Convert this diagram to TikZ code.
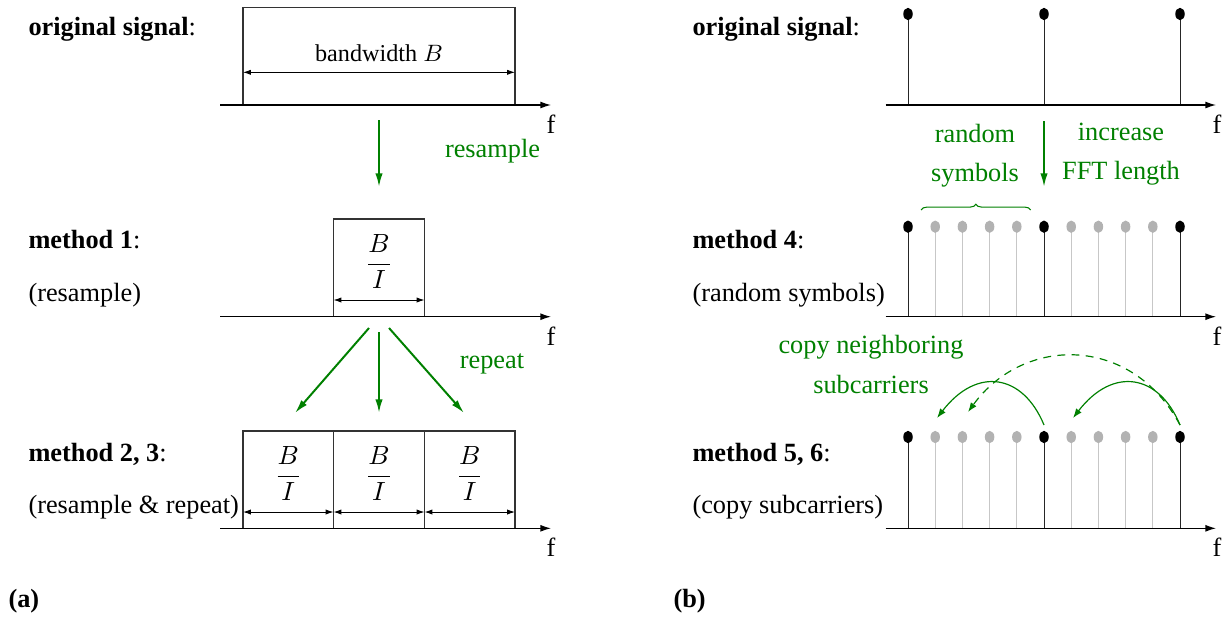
\documentclass[tikz,border=0pt]{standalone}
\usepackage{fontspec}
\setmainfont{Liberation Serif}
\usetikzlibrary{arrows.meta,decorations.pathreplacing,shapes.geometric}
\definecolor{sigGreen}{rgb}{0,0.5,0}
\definecolor{stemGray}{gray}{0.78}
\definecolor{dotGray}{gray}{0.70}

\begin{document}
\begin{tikzpicture}[x=0.38pt,y=-0.38pt,
  axis/.style={line width=0.45pt,-{Latex[length=4pt,width=2.6pt]}},
  band/.style={line width=0.4pt,draw=black!80},
  dim/.style={line width=0.35pt,{Latex[length=3pt,width=2pt]}-{Latex[length=3pt,width=2pt]}},
  flow/.style={sigGreen,line width=0.75pt,-{Latex[length=5.2pt,width=2.8pt]}},
  copyarc/.style={sigGreen,line width=0.45pt,-{Latex[length=3.6pt,width=2.6pt]}},
  lbl/.style={anchor=base west,inner sep=0pt},
  gtxt/.style={text=sigGreen,anchor=base,inner sep=0pt},
  ftxt/.style={anchor=base,inner sep=0pt},
  dot/.style={ellipse,inner sep=0pt,minimum width=3.6pt,minimum height=4.7pt,fill=black},
  gdot/.style={dot,fill=dotGray},
  stemline/.style={line width=0.35pt,draw=black!85},
  gstemline/.style={line width=0.4pt,draw=stemGray}]
\useasboundingbox (0,0) rectangle (1228,617);

% ---------- (a) bandwidth view ----------
% row labels
\node[lbl] (la0) at (28,35) {\textbf{original signal}:};
\node[lbl] (la1) at (28,248) {\textbf{method 1}:};
\node[lbl] (la1s) at (28,301) {(resample)};
\node[lbl] (la2) at (28,461) {\textbf{method 2, 3}:};
\node[lbl] (la2s) at (28,513) {(resample \& repeat)};
\node[lbl] (pa) at (8,607) {\textbf{(a)}};

% original band
\draw[band] (243,105) rectangle (515,7.5);
\coordinate (bwL) at (243,72.3);
\coordinate (bwR) at (515,72.3);
\draw[dim] (bwL) -- (bwR);
\node[ftxt] (bw) at (379,61) {\fontsize{9.2}{11}\selectfont$\mathrm{bandwidth}\ B$};
\coordinate (ax0s) at (220,105);
\coordinate (ax0e) at (551,105);
\draw[axis] (ax0s) -- (ax0e);
\node[ftxt] (fa0) at (551,133) {f};

% resample step
\coordinate (rs0) at (379,120);
\coordinate (rs1) at (379,187);
\draw[flow] (rs0) -- (rs1);
\node[gtxt] (rsl) at (492.5,157) {resample};

% method 1 band
\draw[band] (333.5,316.7) rectangle (424.5,219);
\node[ftxt] (fr1) at (379,270.6) {$\displaystyle\frac{B}{I}$};
\coordinate (d1L) at (333.5,300);
\coordinate (d1R) at (424.5,300);
\draw[dim] (d1L) -- (d1R);
\coordinate (ax1s) at (220,316.7);
\coordinate (ax1e) at (551,316.7);
\draw[axis] (ax1s) -- (ax1e);
\node[ftxt] (fa1) at (551,345) {f};

% repeat step
\coordinate (rpL0) at (369,328);
\coordinate (rpL1) at (295,413);
\coordinate (rpM0) at (379,332);
\coordinate (rpM1) at (379,413);
\coordinate (rpR0) at (389,328);
\coordinate (rpR1) at (464,413);
\draw[flow] (rpL0) -- (rpL1);
\draw[flow] (rpM0) -- (rpM1);
\draw[flow] (rpR0) -- (rpR1);
\node[gtxt] (rpl) at (492,368) {repeat};

% method 2, 3 bands
\foreach \xl/\xr/\n in {243/333.5/1,333.5/424.5/2,424.5/515/3}{
  \draw[band] (\xl,528.3) rectangle (\xr,431);
  \node[ftxt] (fr2-\n) at ({(\xl+\xr)/2},482.6) {$\displaystyle\frac{B}{I}$};
  \coordinate (d2L-\n) at (\xl,512);
  \coordinate (d2R-\n) at (\xr,512);
  \draw[dim] (d2L-\n) -- (d2R-\n);
}
\coordinate (ax2s) at (220,528.3);
\coordinate (ax2e) at (551,528.3);
\draw[axis] (ax2s) -- (ax2e);
\node[ftxt] (fa2) at (551,556) {f};

% ---------- (b) subcarrier view ----------
\node[lbl] (lb0) at (692,35) {\textbf{original signal}:};
\node[lbl] (lb1) at (692,248) {\textbf{method 4}:};
\node[lbl] (lb1s) at (692,301) {(random symbols)};
\node[lbl] (lb2) at (692,461) {\textbf{method 5, 6}:};
\node[lbl] (lb2s) at (692,513) {(copy subcarriers)};
\node[lbl] (pb) at (673,607) {\textbf{(b)}};

% original subcarriers
\foreach \k in {0,1,2}{
  \pgfmathsetmacro{\xx}{908+136*\k}
  \draw[stemline] (\xx,105) -- (\xx,14);
  \node[dot] (s0-\k) at (\xx,14) {};
}
\coordinate (bx0s) at (885.6,105);
\coordinate (bx0e) at (1216,105);
\draw[axis] (bx0s) -- (bx0e);
\node[ftxt] (fb0) at (1217,133) {f};

% step to method 4
\coordinate (ic0) at (1044,121);
\coordinate (ic1) at (1044,187);
\draw[flow] (ic0) -- (ic1);
\node[gtxt] (rn1) at (975,142) {random};
\node[gtxt] (rn2) at (975,181) {symbols};
\node[gtxt] (in1) at (1121,140) {increase};
\node[gtxt] (in2) at (1121,179) {FFT length};

% method 4 and method 5, 6 subcarriers
\foreach \row/\yb/\yd in {4/316.7/226.7,5/528.3/437}{
  \foreach \k in {0,...,10}{
    \pgfmathsetmacro{\xx}{908+27.2*\k}
    \pgfmathtruncatemacro{\m}{mod(\k,5)}
    \ifnum\m=0
      \draw[stemline] (\xx,\yb) -- (\xx,\yd);
      \node[dot] (s\row-\k) at (\xx,\yd) {};
    \else
      \draw[gstemline] (\xx,\yb) -- (\xx,\yd);
      \node[gdot] (s\row-\k) at (\xx,\yd) {};
    \fi
  }
}
\coordinate (bx1s) at (885.6,316.7);
\coordinate (bx1e) at (1216,316.7);
\draw[axis] (bx1s) -- (bx1e);
\node[ftxt] (fb1) at (1217,345) {f};
\coordinate (bx2s) at (885.6,528.3);
\coordinate (bx2e) at (1216,528.3);
\draw[axis] (bx2s) -- (bx2e);
\node[ftxt] (fb2) at (1217,556) {f};

% brace over the random symbols
\coordinate (brL) at (921,210);
\coordinate (brR) at (1030.7,210);
\draw[sigGreen,line width=0.4pt,decorate,decoration={brace,amplitude=2.2pt}] (brL) -- (brR);

% copying neighbouring subcarriers
\node[gtxt] (cp1) at (871,353) {copy neighboring};
\node[gtxt] (cp2) at (871,393) {subcarriers};
\coordinate (a1s) at (1044,425);
\coordinate (a1e) at (937,418);
\coordinate (a2s) at (1180,425);
\coordinate (a2e) at (1073,418);
\coordinate (a3e) at (968,412);
\draw[copyarc] (a1s) .. controls (1023,374) and (977,366) .. (a1e);
\draw[copyarc] (a2s) .. controls (1159,374) and (1113,366) .. (a2e);
\draw[copyarc,dash pattern=on 3pt off 2.4pt] (a2s) .. controls (1132,335) and (1024,335) .. (a3e);
\end{tikzpicture}
\end{document}
